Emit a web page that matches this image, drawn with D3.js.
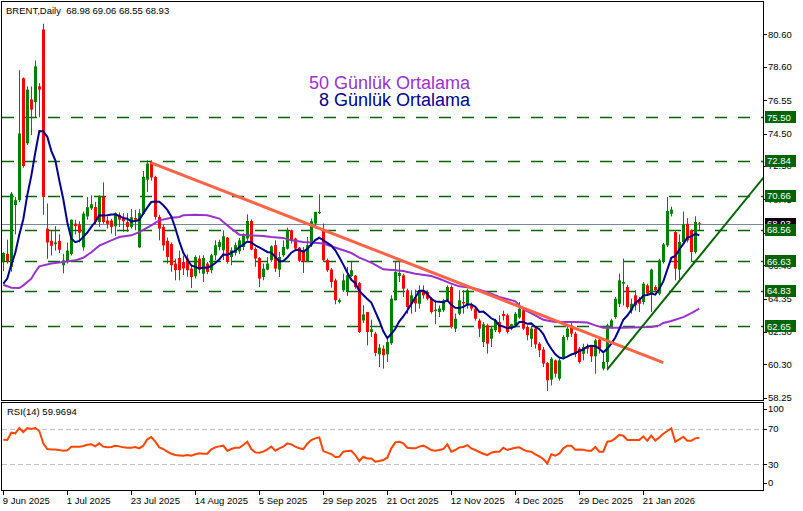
<!DOCTYPE html>
<html><head><meta charset="utf-8">
<script src="https://cdn.jsdelivr.net/npm/d3@7/dist/d3.min.js"></script>
<style>body{margin:0;background:#fff}svg{display:block}text{font-family:"Liberation Sans",Arial,sans-serif}</style>
</head><body><svg id="c" width="803" height="511"></svg>
<script>
// ---------- data ----------
const title = "BRENT,Daily  68.98 69.06 68.55 68.93";
const priorCloses = [64.2, 63.9, 64.6, 65.6, 64.9, 65.3, 66.5];
const open  = [66.66,67.1,66.3,70.1,70.4,77.9,73.9,76.6,76.44,77.4,80.9,68.65,67.9,67.7,67.9,66.4,66.6,67.1,68.96,68.9,67.5,69.4,69.9,69.98,69.06,70.6,69.15,69.15,68.8,69.5,69.3,69.05,68.75,69.3,67.5,69.57,71.66,72.75,71.83,69.37,68.75,67.9,67.7,66.5,66.85,66.6,66.81,66.19,65.72,66.81,65.88,66.5,66.09,67.01,67.52,67.32,68.1,66.91,67.16,67.26,67.52,68.04,69.12,67.4,66.85,65.68,66.13,66.71,67.63,66.13,67.01,67.42,68.55,68.04,67.48,67.32,66.6,67.63,68.96,69.6,68.55,66.71,66.13,65.47,64.14,64.86,64.76,65.74,65.76,65.3,63.0,63.52,62.29,62.19,60.92,61.27,60.92,61.6,64.24,65.74,65.78,64.86,64.03,64.4,64.03,64.86,64.75,64.34,63.58,63.52,63.63,64.24,65.06,62.5,63.42,64.14,63.93,63.93,63.73,63.0,61.68,62.7,61.88,62.4,62.9,63.4,63.32,62.5,62.7,63.19,63.63,62.6,61.88,62.5,61.57,61.21,60.39,59.36,60.55,59.42,60.75,61.98,62.7,62.19,61.27,60.96,61.37,61.37,60.8,61.82,60.04,60.45,62.6,63.21,64.03,65.26,65.06,63.62,64.55,64.34,64.14,65.16,64.65,65.06,64.65,66.6,67.62,69.57,68.44,66.13,67.83,68.95,68.55,67.21,68.98];
const high  = [67.2,67.97,70.9,70.6,78.4,77.95,77.4,77.4,79.0,77.6,81.25,70.2,68.5,68.8,68.3,67.1,67.8,69.2,69.2,69.1,69.7,70.6,70.7,70.3,70.7,71.5,69.4,69.25,69.65,69.65,69.6,69.6,69.85,69.8,69.85,72.2,72.85,72.85,71.9,69.5,68.9,68.1,67.8,66.8,67.3,67.0,67.07,66.4,67.01,67.0,67.01,66.6,67.1,67.93,67.97,68.55,68.14,67.5,67.8,68.08,68.35,69.53,69.22,67.5,66.91,66.5,66.91,67.63,67.93,67.22,67.93,68.71,68.6,68.1,67.52,67.52,68.14,69.27,69.68,70.76,68.96,66.81,66.23,65.58,64.35,65.88,66.3,66.6,65.8,65.37,63.93,63.52,63.05,62.3,61.55,61.47,61.94,64.55,66.6,66.8,65.88,64.96,64.86,64.9,65.16,65.16,64.86,64.45,64.24,63.93,64.34,65.16,65.16,63.42,64.86,64.86,64.96,64.1,63.9,63.11,62.9,62.8,62.6,63.11,63.32,63.6,63.42,62.8,63.52,64.14,63.73,62.7,62.6,62.6,61.67,61.37,60.45,60.75,60.6,60.65,62.1,62.7,62.85,62.3,61.37,61.57,61.57,61.47,61.88,61.98,60.96,62.8,63.11,64.45,65.88,66.8,65.2,64.34,64.86,64.45,65.37,65.26,66.19,65.16,66.8,67.77,70.6,70.0,68.55,68.3,69.7,69.3,68.6,69.41,69.06];
const low   = [66.05,66.5,66.0,68.3,70.3,72.4,73.8,74.4,75.5,75.5,69.5,66.8,67.0,67.3,67.15,65.9,66.5,67.0,68.3,67.8,67.3,69.2,69.8,68.9,68.75,68.95,68.65,68.35,68.2,68.75,68.45,68.45,68.65,68.55,67.45,69.5,70.9,71.6,69.2,67.93,67.3,66.5,66.0,65.47,65.47,65.8,65.7,65.0,65.58,65.9,65.37,65.85,65.9,66.71,67.32,66.71,66.5,66.4,67.0,67.1,67.32,67.93,67.32,66.3,65.06,65.47,66.09,66.6,65.99,65.68,66.91,67.36,67.73,67.32,66.6,65.92,66.6,67.52,68.65,69.55,66.6,65.99,65.02,64.0,64.05,64.76,64.51,65.68,64.95,62.23,62.85,61.47,61.99,60.8,60.14,60.04,60.45,61.5,64.24,65.37,64.45,63.42,63.42,63.52,63.73,64.35,64.24,63.42,62.77,63.21,63.52,64.14,62.5,62.29,63.32,63.42,63.73,63.6,63.0,61.98,61.37,60.96,61.37,62.29,62.19,63.0,62.19,62.4,62.6,63.11,62.4,61.78,61.37,61.27,60.75,60.14,58.66,59.0,59.5,59.3,60.6,61.78,61.98,60.75,60.35,60.55,60.96,60.45,59.73,60.96,59.93,59.93,62.5,63.11,63.83,63.93,63.73,63.42,63.62,63.52,63.99,64.55,63.52,64.75,64.55,66.5,67.52,69.4,65.47,65.5,67.7,67.8,66.6,67.11,68.55];
const close = [67.15,66.66,70.8,70.4,74.5,72.5,77.2,75.97,78.63,77.2,70.6,67.8,67.6,67.8,67.35,66.7,67.3,69.2,68.8,68.4,69.57,69.97,70.15,69.06,70.66,69.06,68.95,68.75,69.6,69.2,69.1,68.75,69.35,69.2,69.6,71.83,72.65,71.8,69.37,68.65,67.62,66.9,66.4,66.1,66.09,66.2,66.09,65.68,66.91,66.13,66.85,65.99,67.01,67.63,67.83,68.18,66.6,67.32,67.63,67.93,68.24,69.12,67.36,66.81,65.58,66.19,66.5,67.56,66.19,66.91,67.52,68.55,67.93,67.42,66.67,66.6,67.63,69.1,69.68,69.68,66.71,66.09,65.37,64.25,64.25,65.47,65.78,66.09,65.06,62.29,63.37,62.29,62.46,61.0,61.33,60.86,61.68,64.34,65.98,65.92,64.96,63.83,64.55,64.05,64.86,64.55,64.34,63.52,63.67,63.73,64.24,65.06,62.6,63.11,64.24,64.05,64.86,63.73,63.11,62.5,62.77,61.58,62.5,63.01,62.29,63.27,62.29,62.77,63.42,63.73,62.5,62.09,62.5,61.53,61.17,60.35,59.32,60.65,59.73,60.55,61.98,62.5,62.19,60.96,60.45,61.37,61.27,60.8,61.78,61.27,60.45,62.7,63.01,64.34,65.47,65.37,63.83,64.03,63.93,64.03,65.26,64.65,66.13,64.86,66.7,67.68,69.73,69.82,66.19,67.83,68.91,67.93,67.21,69.06,68.93];
const ma50Bars = [0,2,4,5,7,8,9,12,15,18,20,22,24,27,29,32,34,37,39,42,44,45,48,51,54,55,57,59,61,65,67,70,72,75,77,80,82,85,87,89,92,94,95,98,100,103,107,109,112,114,117,119,122,124,128,130,133,135,138,140,143,146,148,150,152,155,159,162,164,165,167,170,172,174];
const ma50     = [65.2,65.02,65.0,65.16,65.57,65.98,66.33,66.5,66.6,66.7,66.86,67.2,67.6,67.93,68.13,68.24,68.44,68.85,69.16,69.32,69.37,69.47,69.51,69.47,69.27,69.06,68.65,68.28,68.24,68.2,68.14,68.08,67.93,67.83,67.79,67.73,67.57,67.32,67.15,66.87,66.56,66.29,66.15,66.09,66.05,65.88,65.74,65.57,65.27,65.1,65.02,64.9,64.65,64.45,64.18,63.7,63.32,63.05,62.91,62.91,62.91,62.87,62.7,62.56,62.56,62.56,62.58,62.6,62.7,62.85,62.97,63.21,63.46,63.73];
const rsi = [57.9,57.5,65.8,65.1,71.1,66.6,71.1,70,71.1,67.7,53.7,47.3,46.9,46.9,46.2,45.4,45.8,50,50,50,50.7,52.2,52.6,50.3,53.7,50,49.2,49.6,51.1,50.3,49.2,48.8,48.8,49.6,48.1,51.1,58.3,60.9,55.6,49.2,47.3,44.3,42,40.5,40.1,39.8,40.5,39.8,41.3,42.4,42,42,46.9,49.2,50.3,51.1,45.4,47.3,48.8,48.8,51.8,55.6,47.3,43.5,43.2,44.3,46.9,50,45.4,48.1,50,53.7,52.6,50,48.1,47.3,53.3,57.5,59.4,60.5,45,43.2,41.6,38.2,38.6,44.3,45,45.4,40.5,33.7,38.6,36.7,36.7,33,33.7,34.8,37.5,48.1,54.9,55.6,53.7,48.8,48.1,48.1,50,51.1,48.8,46.2,45.4,46.2,47.3,52.6,44.3,46.2,49.2,49.6,51.8,48.1,46.2,43.9,42,40.5,43.2,44.3,44.3,48.8,46.2,47.7,48.8,49.2,46.6,44.7,44.3,41.3,39,36,31.1,41.3,39.8,42,48.1,51.1,51.1,46.6,46.9,46.6,45.4,45.4,49.6,44.3,44.3,55.6,56.4,59.4,63.5,62.4,57.5,57.5,57.5,57.5,61.7,56.8,62.4,56.8,60.5,64.7,67.7,70.7,55.6,58.3,61.3,56.8,56.8,59.4,59.97];
const rsiLabel = "RSI(14) 59.9694";
const levels = [75.50, 72.84, 70.66, 68.56, 66.63, 64.83, 62.65];
const lastPrice = 68.93;
const priceTicks = [80.60, 78.60, 76.55, 74.50, 72.50, 70.45, 68.40, 66.40, 64.35, 62.30, 60.30, 58.25];
const rsiTicks = [100, 70, 30, 0];
const rsiLevels = [70, 30];
const dateTickBars = [0, 16, 32, 48, 64, 80, 96, 112, 128, 144, 160];
const dateLabels = ["9 Jun 2025","1 Jul 2025","23 Jul 2025","14 Aug 2025","5 Sep 2025","29 Sep 2025","21 Oct 2025","12 Nov 2025","4 Dec 2025","29 Dec 2025","21 Jan 2026"];
const downTrend = [[36.85, 72.71], [165, 60.41]];
const upTrend = [[151, 60.0], [184.2, 70.02]];
const legend = ["50 Günlük Ortalama", "8 Günlük Ortalama"];

// ---------- layout ----------
const svg = d3.select("#c");
const L = 2, R = 763, T = 2, B = 400, RT = 403, RB = 491;
const x = d3.scaleLinear().domain([0, 174]).range([3.3, 699.3]);
const y = d3.scaleLinear().domain([58.11, 82.59]).range([B, T]);
const yr = d3.scaleLinear().domain([0, 100]).range([490.8, 402.5]);

const defs = svg.append("defs");
defs.append("clipPath").attr("id","cm").append("rect").attr("x",L).attr("y",T).attr("width",R-L).attr("height",B-T);
defs.append("clipPath").attr("id","cr").append("rect").attr("x",L).attr("y",RT).attr("width",R-L).attr("height",RB-RT);

const main = svg.append("g").attr("clip-path","url(#cm)");

// horizontal support / resistance lines
main.selectAll("line.lvl").data(levels).join("line")
  .attr("x1",L).attr("x2",R).attr("y1",d=>Math.round(y(d))+0.5).attr("y2",d=>Math.round(y(d))+0.5)
  .attr("stroke","#006400").attr("stroke-width",1.3).attr("stroke-dasharray","12,11");

// current price line
main.append("line").attr("x1",L).attr("x2",R)
  .attr("y1",Math.round(y(lastPrice))+0.5).attr("y2",Math.round(y(lastPrice))+0.5)
  .attr("stroke","#778899").attr("stroke-width",1);

// candles
const idx = d3.range(close.length);
const bull = i => close[i] >= open[i];
const col = i => bull(i) ? "#008000" : "#ff0000";
main.selectAll("line.wick").data(idx).join("line")
  .attr("x1",i=>Math.round(x(i))+0.5).attr("x2",i=>Math.round(x(i))+0.5)
  .attr("y1",i=>y(high[i])).attr("y2",i=>y(low[i])).attr("stroke",col).attr("stroke-width",1);
main.selectAll("rect.body").data(idx).join("rect")
  .attr("x",i=>Math.round(x(i))-1).attr("width",3)
  .attr("y",i=>y(Math.max(open[i],close[i])))
  .attr("height",i=>Math.max(1, y(Math.min(open[i],close[i])) - y(Math.max(open[i],close[i]))))
  .attr("fill",col);

// moving averages
const allC = priorCloses.concat(close);
const ma8 = idx.map(i => d3.mean(allC.slice(i, i + priorCloses.length + 1)));
main.append("path").datum(ma50Bars.map((b,k)=>[b,ma50[k]]))
  .attr("d", d3.line().x(d=>x(d[0])).y(d=>y(d[1])))
  .attr("fill","none").attr("stroke","#9932cc").attr("stroke-width",2);
main.append("path").datum(idx)
  .attr("d", d3.line().x(i=>x(i)).y(i=>y(ma8[i])))
  .attr("fill","none").attr("stroke","#00008b").attr("stroke-width",2);

// trend lines (the rising one is a ray extended to the price axis)
main.append("line").attr("x1",x(downTrend[0][0])).attr("y1",y(downTrend[0][1]))
  .attr("x2",x(downTrend[1][0])).attr("y2",y(downTrend[1][1]))
  .attr("stroke","#ff6347").attr("stroke-width",3);
{
  const [b1,p1] = upTrend[0], [b2,p2] = upTrend[1];
  const bEnd = x.invert(R + 5);
  const pEnd = p1 + (p2 - p1) * (bEnd - b1) / (b2 - b1);
  main.append("line").attr("x1",x(b1)).attr("y1",y(p1)).attr("x2",x(bEnd)).attr("y2",y(pEnd))
    .attr("stroke","#006400").attr("stroke-width",2);
}

// legend
svg.append("text").attr("x",470).attr("y",89).attr("text-anchor","end")
  .attr("font-size",18).attr("fill","#9932cc").text(legend[0]);
svg.append("text").attr("x",470).attr("y",106).attr("text-anchor","end")
  .attr("font-size",18).attr("fill","#00008b").text(legend[1]);

// title
svg.append("text").attr("x",6).attr("y",14).attr("font-size",9.5).attr("fill","#000")
  .style("white-space","pre").text(title);

// frames
svg.append("rect").attr("x",L-0.5).attr("y",T-0.5).attr("width",R-L+1).attr("height",B-T+1)
  .attr("fill","none").attr("stroke","#000");
svg.append("rect").attr("x",L-0.5).attr("y",RT-0.5).attr("width",R-L+1).attr("height",RB-RT)
  .attr("fill","none").attr("stroke","#000");

// right price axis
const ax = svg.append("g");
ax.selectAll("line").data(priceTicks).join("line")
  .attr("x1",R).attr("x2",R+4).attr("y1",d=>Math.round(y(d))+0.5).attr("y2",d=>Math.round(y(d))+0.5).attr("stroke","#000");
ax.selectAll("text").data(priceTicks).join("text")
  .attr("x",768).attr("y",d=>y(d)).attr("dy","0.35em").attr("font-size",9.5).attr("fill","#000")
  .text(d=>d3.format(".2f")(d));

// price tags
const tag = (v, bg) => {
  svg.append("rect").attr("x",765).attr("y",Math.round(y(v))-6).attr("width",31).attr("height",12).attr("fill",bg);
  svg.append("text").attr("x",767).attr("y",y(v)).attr("dy","0.35em").attr("font-size",9.5)
    .attr("fill","#fff").text(d3.format(".2f")(v));
};
tag(lastPrice, "#000");
levels.forEach(v => tag(v, "#006400"));

// RSI panel
const rp = svg.append("g").attr("clip-path","url(#cr)");
rp.selectAll("line").data(rsiLevels).join("line")
  .attr("x1",L).attr("x2",R).attr("y1",d=>Math.round(yr(d))+0.5).attr("y2",d=>Math.round(yr(d))+0.5)
  .attr("stroke","#c0c0c0").attr("stroke-dasharray","5,3");
rp.append("path").datum(idx)
  .attr("d", d3.line().x(i=>x(i)).y(i=>yr(rsi[i])))
  .attr("fill","none").attr("stroke","#ff4500").attr("stroke-width",2);
svg.append("text").attr("x",7).attr("y",415).attr("font-size",9.5).attr("fill","#000").text(rsiLabel);
const clampR = d => Math.min(483, Math.max(409, yr(d)));
const rax = svg.append("g");
rax.selectAll("line").data(rsiTicks).join("line")
  .attr("x1",R).attr("x2",R+4).attr("y1",d=>Math.round(clampR(d))+0.5)
  .attr("y2",d=>Math.round(clampR(d))+0.5).attr("stroke","#000");
rax.selectAll("text").data(rsiTicks).join("text")
  .attr("x",768).attr("y",clampR).attr("dy","0.35em")
  .attr("font-size",9.5).attr("fill","#000").text(d=>d);

// date axis
const dx = svg.append("g");
dx.selectAll("line").data(dateTickBars).join("line")
  .attr("x1",b=>Math.round(x(b))+0.5).attr("x2",b=>Math.round(x(b))+0.5)
  .attr("y1",RB).attr("y2",RB+4).attr("stroke","#000");
dx.selectAll("text").data(dateTickBars).join("text")
  .attr("x",b=>x(b)-0.5).attr("y",504).attr("font-size",9.5).attr("fill","#000")
  .text((b,k)=>dateLabels[k]);
</script></body></html>
